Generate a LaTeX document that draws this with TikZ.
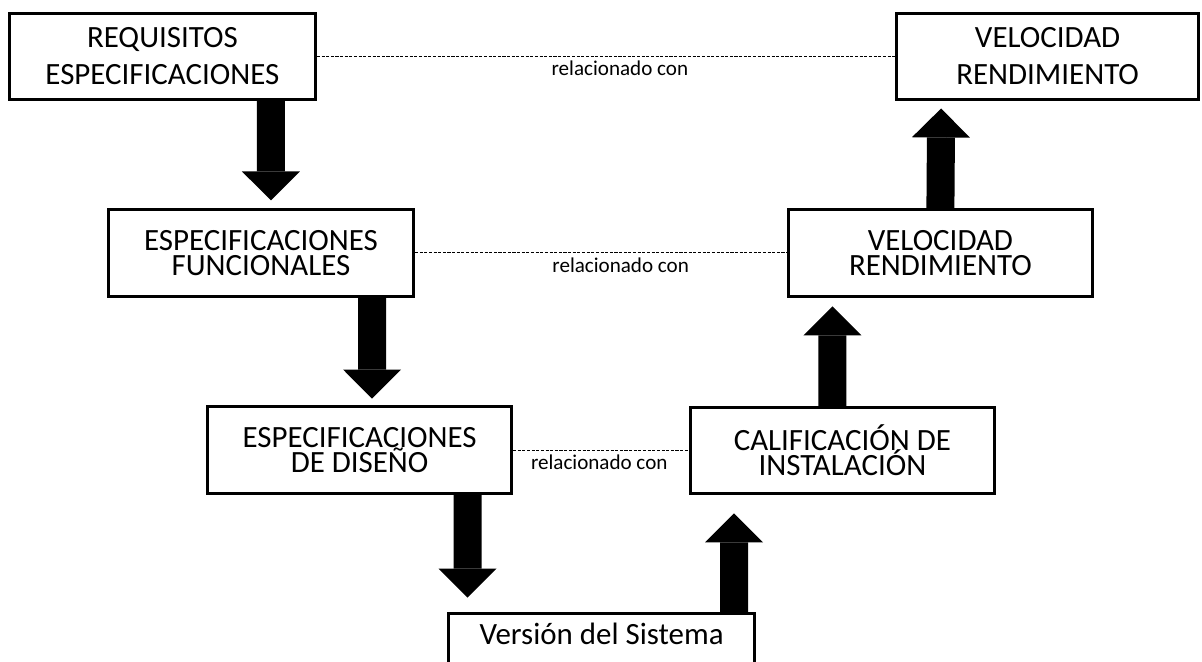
\documentclass[tikz,border=0pt]{standalone}
\usepackage{fontspec}
\setmainfont{Carlito}
\usetikzlibrary{arrows.meta}
\lineskiplimit=-50pt

\tikzset{
	caja/.style={draw, line width=2.1pt, inner sep=0pt, align=center, minimum width=7.6cm, minimum height=2.175cm, font=\fontsize{22}{17.8}\selectfont},
	cajasup/.style={caja, minimum height=2.15cm, font=\fontsize{22}{26.2}\selectfont},
	flecha/.style={line width=0.7cm, -{Triangle[width=1.45cm,length=0.725cm,line width=0pt]}},
	relacion/.style={line width=0.7pt, dash pattern=on 2.2pt off 1.1pt},
	etiqueta/.style={font=\fontsize{15}{18}\selectfont, inner sep=0pt, anchor=base, yshift=-0.48cm}
}

\begin{document}
\begin{tikzpicture}
		\useasboundingbox (0,0) rectangle (30.05,16.55);
		\clip (0,0) rectangle (30.05,16.55);

		% lado izquierdo
		\node[cajasup, minimum width=7.65cm] (reqesp) at (4.06,15.14) {REQUISITOS\\ESPECIFICACIONES};
		\node[caja, minimum width=7.625cm] (espfunc) at (6.525,10.225) {ESPECIFICACIONES\\FUNCIONALES};
		\node[caja] (espdis) at (8.99,5.3) {ESPECIFICACIONES\\DE DISEÑO};

		% abajo
		\node[caja, minimum width=7.65cm, minimum height=1.3cm, text depth=0.3cm] (version) at (15.04,0.5625) {Versión del Sistema};

		% lado derecho
		\node[caja, minimum height=2.15cm] (calinst) at (21.06,5.29) {CALIFICACIÓN DE\\INSTALACIÓN};
		\node[caja] (velmid) at (23.51,10.225) {VELOCIDAD\\RENDIMIENTO};
		\node[cajasup, minimum width=7.55cm] (veltop) at (26.19,15.14) {VELOCIDAD\\RENDIMIENTO};

		\draw[flecha, shorten >=0.19cm] ([xshift=2.71cm]reqesp.south) -- ([xshift=0.25cm]espfunc.north);
		\draw[flecha, shorten >=0.16cm] ([xshift=2.78cm]espfunc.south) -- ([xshift=0.31cm]espdis.north);
		\draw[flecha, shorten >=0.36cm] ([xshift=2.7cm]espdis.south) -- ([xshift=-3.35cm]version.north);
		\draw[flecha, shorten >=0.46cm] ([xshift=3.31cm]version.north) -- ([xshift=-2.71cm]calinst.south);
		\draw[flecha, shorten >=0.21cm] ([xshift=-0.25cm]calinst.north) -- ([xshift=-2.7cm]velmid.south);
		\draw[flecha, shorten >=0.19cm] (velmid.north) -- ([xshift=-2.66cm]veltop.south);

		\draw[relacion] (reqesp.east) -- node[etiqueta, pos=0.524] (rel1) {relacionado con} (veltop.west);
		\draw[relacion] (espfunc.east) -- node[etiqueta, pos=0.553] (rel2) {relacionado con} (velmid.west);
		\draw[relacion] (espdis.east) -- node[etiqueta, pos=0.49] (rel3) {relacionado con} (espdis.east -| calinst.west);
	\end{tikzpicture}
\end{document}
